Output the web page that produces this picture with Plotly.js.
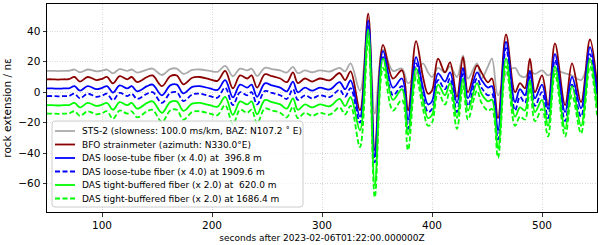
<!DOCTYPE html>
<html><head><meta charset="utf-8">
<script src="https://cdn.plot.ly/plotly-3.0.1.min.js"></script>
<style>html,body{margin:0;padding:0;background:#fff}#chart{width:598px;height:245px}</style>
</head><body><div id="chart"></div>
<script>
// time in seconds after 2023-02-06T01:22:00
const t = [50,55,60,65,70,75,80,87,95,100,104.5,110,116,123,127,132,141,146,154.5,162,168,174,182,189,198,205,212,219,225.5,232,236,241,248,254.5,262,268,273.6,278,284.5,291,298,307,316,321,326,334.5,342,348,355.5,364.5,372.7,378.2,385.5,391.8,396.4,400,405.5,411.8,416.4,422.7,428.2,432.7,440.9,445,450.9,454.5,460,467.3,475.5,480,484.5,489,493.6,500,505.5,511.8,521,527.3,535.5,543.6,550];

const sts2 = [14,14,13.9,14,14.1,14.9,13.1,14.9,13.7,14.2,14.9,12.4,15.2,14,14.9,12.9,14.9,15.5,11.3,15.2,15.5,12,14.6,14.9,14,13.4,17.3,10.5,15.5,14.3,15.5,10.7,16,15.2,14.3,12.9,16.7,12.5,14.3,13.1,14.3,13.6,16,13.7,19,
  1,44,-14,28,14,15.6,6,12,19,13,10,16,13,17,10,24,9,19,9,17,22,-2,12,16,11,10,14,12,14.4,11,14,12.4,11,8,20,9];

const bfo = [8.5,8.5,8.3,8.5,8.6,10,7,10,8,8.8,10,5.8,10.5,8.5,10,6.6,10,11,4,10.5,11,5.2,9.5,10,8.5,7.5,14,2.6,11,9,11,3,11.8,10.5,9,6.6,13,6,9,7,9,7.8,12.6,8,13.7,
  -11.8,51.5,-38,31,9,14.4,-12,33.5,10,-1,1,22,13,19.6,-3,23,0,17.6,13,6.5,9,-17,38,0,6,2.6,22,0,11,-8.5,32,-8.5,19,-6.5,34.6,5];

const dasLoose397 = [2.5,2.5,2.3,2.5,2.6,4,1,4,2,2.8,4,-0.2,4.5,2.5,4,0.6,4,5,-2,4.5,5,-0.8,3.5,4,2.5,1.5,8,-3.4,5,3,5,-3,5.8,4.5,3,0.6,7,0,3,1,3,1.8,6.6,2,7.7,
  -16,47,-42,27,3,9,-18,23,3,-8,-6,12.4,7,13,-7,16,-4,13,8,3,4,-25,33,-6.5,2,-2,14,-4,5,-11,25,-13,10,-10.5,29.6,0];

const dasLoose1910 = [-2.5,-2.5,-2.7,-2.5,-2.4,-1,-4,-1,-3,-2.2,-1,-5.2,-0.5,-2.5,-1,-4.4,-1,0,-7,-0.5,0,-5.8,-1.5,-1,-2.5,-3.5,3,-8.4,0,-2,0,-8,0.8,-0.5,-2,-4.4,2,-5,-2,-4,-2,-3.2,1.6,-3,2.7,
  -20,43,-46,23,-2,4,-24,19,-2,-13,-11,8,2,9,-13,12,-9,9,3,-2,-1,-31,29,-12,-3,-7,10,-9,0,-17,21,-19,5,-16,25,-5];

const dasTight620 = [-8.5,-8.5,-8.7,-8.5,-8.4,-7,-10,-7,-9,-8.2,-7,-11.5,-6.5,-8.5,-7,-10.8,-7,-6,-13.5,-6.5,-6,-12.2,-7.5,-7,-8.5,-9.5,-3,-14.8,-6,-8,-6,-14.5,-5.2,-6.5,-8,-10.8,-4,-11.5,-8,-10,-8,-9.2,-4.4,-9,-3.3,
  -25,41,-61,22,-5,2,-28,15.6,-5,-17,-15,5,-2,6,-17,9,-12,6,-1,-6,-5,-37,22,-16,-10,-12,8,-13,-5,-22,17,-24,4,-22,22,-10];

const dasTight1686 = [-14,-14,-14.2,-14,-13.9,-12.5,-15.5,-12.5,-14.5,-13.7,-12.5,-17.5,-12,-14,-12.5,-16.5,-12.5,-11.5,-19.5,-12,-11.5,-18,-13,-12.5,-14,-15,-8.5,-21,-11.5,-13.5,-11.5,-20.5,-10.7,-12,-13.5,-16.5,-9.5,-17,-13.5,-15.5,-13.5,-14.7,-10,-14.5,-9,
  -36,35,-69,16,-12,-5,-38,10,-11,-22,-20,0,-8,1,-24,4,-18,1,-7,-12,-11,-43,17,-22,-16,-18,3,-19,-11,-29,12,-29,-2,-27,17,-15];

const legendLabels = [
  'STS-2 (slowness: 100.0 ms/km, BAZ: N107.2 ˚ E)',
  'BFO strainmeter (azimuth: N330.0°E)',
  'DAS loose-tube fiber (x 4.0) at  396.8 m',
  'DAS loose-tube fiber (x 4.0) at 1909.6 m',
  'DAS tight-buffered fiber (x 2.0) at  620.0 m',
  'DAS tight-buffered fiber (x 2.0) at 1686.4 m'
];
const xTickVals = [100,200,300,400,500];
const yTickVals = [-60,-40,-20,0,20,40];

const seriesList = [sts2, bfo, dasLoose397, dasLoose1910, dasTight620, dasTight1686];
const colors = ['#aaaaaa','#8b0000','#0000ff','#0000ff','#00ff00','#00ff00'];
const dashes = ['solid','solid','solid','5px,2.5px','solid','5px,2.5px'];

const traces = seriesList.map((y, i) => ({
  x: t, y: y, type: 'scatter', mode: 'lines', name: legendLabels[i],
  line: {color: colors[i], width: 1.8, dash: dashes[i], shape: 'spline', smoothing: 1},
  hoverinfo: 'skip', showlegend: false
}));

// plot area geometry in px (for legend placement in paper units)
const L = 47, R = 597, T = 4, B = 212, W = R - L, H = B - T;
const px = p => (p - L) / W, py = q => (B - q) / H;

const shapes = [];
const annotations = [];
// legend frame with rounded corners
(function(){
  const x0 = px(52), x1 = px(303), y0 = py(207), y1 = py(121);
  const rx = 3 / W, ry = 3 / H;
  const path = `M ${x0+rx},${y1} L ${x1-rx},${y1} Q ${x1},${y1} ${x1},${y1-ry} L ${x1},${y0+ry} Q ${x1},${y0} ${x1-rx},${y0} L ${x0+rx},${y0} Q ${x0},${y0} ${x0},${y0+ry} L ${x0},${y1-ry} Q ${x0},${y1} ${x0+rx},${y1} Z`;
  shapes.push({type: 'path', xref: 'paper', yref: 'paper', path: path,
    fillcolor: 'rgba(255,255,255,0.8)', line: {color: '#cccccc', width: 1}, layer: 'above'});
})();
const rowY = [131, 144.5, 158, 171.5, 185, 198.5];
legendLabels.forEach((lab, i) => {
  shapes.push({type: 'line', xref: 'paper', yref: 'paper', x0: px(55), x1: px(75), y0: py(rowY[i]), y1: py(rowY[i]),
    line: {color: colors[i], width: 1.8, dash: dashes[i]}, layer: 'above'});
  annotations.push({xref: 'paper', yref: 'paper', x: px(80), y: py(rowY[i]), xanchor: 'left', yanchor: 'middle',
    text: lab, showarrow: false, font: {family: 'DejaVu Sans', size: 9, color: '#000'}});
});

const layout = {
  width: 598, height: 245,
  margin: {l: L, r: 598 - R, t: T, b: 245 - B, pad: 0},
  paper_bgcolor: '#fff', plot_bgcolor: '#fff',
  font: {family: 'DejaVu Sans', size: 10.5, color: '#000'},
  showlegend: false,
  xaxis: {
    range: [50, 550], tickvals: xTickVals, ticks: 'outside', ticklen: 3.5, tickwidth: 0.8, tickcolor: '#000',
    showline: true, mirror: true, linecolor: '#000', linewidth: 1,
    showgrid: true, gridcolor: '#cfcfcf', griddash: '1px,1.5px', gridwidth: 0.8, zeroline: false,
    tickfont: {family: 'DejaVu Sans', size: 10.5, color: '#000'},
    title: {text: 'seconds after 2023-02-06T01:22:00.000000Z', font: {family: 'DejaVu Sans', size: 9, color: '#000'}, standoff: 4}
  },
  yaxis: {
    range: [-78.6, 57.9], tickvals: yTickVals, ticks: 'outside', ticklen: 3.5, tickwidth: 0.8, tickcolor: '#000',
    showline: true, mirror: true, linecolor: '#000', linewidth: 1,
    showgrid: true, gridcolor: '#cfcfcf', griddash: '1px,1.5px', gridwidth: 0.8, zeroline: false,
    tickfont: {family: 'DejaVu Sans', size: 10.5, color: '#000'},
    title: {text: 'rock extension / nε', font: {family: 'DejaVu Sans', size: 10.5, color: '#000'}, standoff: 4}
  },
  shapes: shapes,
  annotations: annotations
};

Plotly.newPlot('chart', traces, layout, {staticPlot: true, displayModeBar: false});
</script>
</body></html>
